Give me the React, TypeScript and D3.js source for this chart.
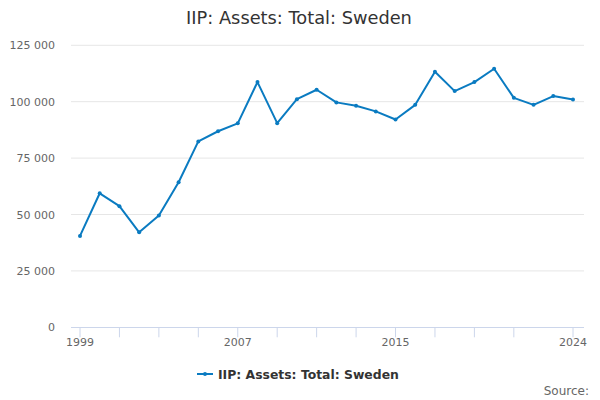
import * as d3 from 'd3';
import * as React from 'react';

const years = [
  1999, 2000, 2001, 2002, 2003, 2004, 2005, 2006, 2007, 2008, 2009, 2010, 2011,
  2012, 2013, 2014, 2015, 2016, 2017, 2018, 2019, 2020, 2021, 2022, 2023, 2024,
];
const assets = [
  40500, 59400, 53700, 42100, 49600, 64300, 82400, 86900, 90400, 108700, 90500,
  101100, 105300, 99700, 98200, 95700, 92100, 98600, 113300, 104700, 108700,
  114600, 101700, 98600, 102500, 101000,
];
const yTicks = [0, 25000, 50000, 75000, 100000, 125000];
const xTickMarks = [1999, 2001, 2003, 2005, 2007, 2009, 2011, 2013, 2015, 2017, 2019, 2021, 2024];
const xTickLabels = [1999, 2007, 2015, 2024];
const seriesName = 'IIP: Assets: Total: Sweden';

const font = '"DejaVu Sans", sans-serif';
const lineColor = '#0a7bc1';

const App = () => {
  const width = 600;
  const height = 400;
  const plotLeft = 71;
  const plotRight = 584;

  const x = d3.scaleLinear().domain([1999, 2024]).range([80, 573]);
  const y = d3.scaleLinear().domain([0, 125000]).range([327.3, 45.3]);

  const fmt = (v: number) => d3.format(',')(v).replace(/,/g, ' ');

  const line = d3
    .line<number>()
    .x((_, i) => x(years[i]))
    .y((d) => y(d));

  return (
    <svg
      width={width}
      height={height}
      style={{ position: 'absolute', left: 0, top: 0, background: '#fff' }}
      fontFamily={font}
    >
      <rect width={width} height={height} fill="#fff" />
      <text x={299} y={24} textAnchor="middle" fontSize={17.8} fill="#333">
        {seriesName}
      </text>

      {/* grid + y labels */}
      {yTicks.map((t) => (
        <g key={t}>
          {t > 0 && (
            <line x1={plotLeft} x2={plotRight} y1={y(t)} y2={y(t)} stroke="#e6e6e6" strokeWidth={1} />
          )}
          <text x={55} y={y(t) + 4} textAnchor="end" fontSize={11} fill="#666">
            {fmt(t)}
          </text>
        </g>
      ))}

      {/* x axis */}
      <line x1={plotLeft} x2={plotRight} y1={y(0) + 0.2} y2={y(0) + 0.2} stroke="#ccd6eb" strokeWidth={1} />
      {xTickMarks.map((t) => (
        <line key={t} x1={x(t)} x2={x(t)} y1={y(0)} y2={y(0) + 10} stroke="#ccd6eb" strokeWidth={1} />
      ))}
      {xTickLabels.map((t) => (
        <text key={t} x={x(t)} y={345.5} textAnchor="middle" fontSize={11} fill="#666">
          {t}
        </text>
      ))}

      {/* series */}
      <path d={line(assets) || ''} fill="none" stroke={lineColor} strokeWidth={2} strokeLinejoin="round" />
      {assets.map((v, i) => (
        <circle key={years[i]} cx={x(years[i])} cy={y(v)} r={2} fill={lineColor} />
      ))}

      {/* legend */}
      <line x1={197} x2={213} y1={374} y2={374} stroke={lineColor} strokeWidth={2} />
      <circle cx={205} cy={374} r={2} fill={lineColor} />
      <text x={218} y={378.5} fontSize={12.4} fontWeight="bold" fill="#333">
        {seriesName}
      </text>

      <text x={589} y={395} textAnchor="end" fontSize={12} fill="#666">
        Source:
      </text>
    </svg>
  );
};

export default App;
